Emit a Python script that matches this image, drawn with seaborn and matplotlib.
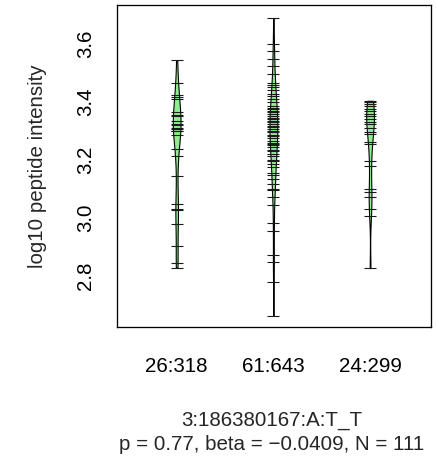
import pandas as pd
import matplotlib.pyplot as plt
import seaborn as sns

# groups (genotype counts)
groups = ["26:318", "61:643", "24:299"]

g1 = [3.544, 3.464, 3.424, 3.418, 3.410, 3.364, 3.356, 3.350, 3.336, 3.324,
      3.320, 3.311, 3.305, 3.300, 3.299, 3.287, 3.238, 3.215, 3.143, 3.047,
      3.032, 3.027, 2.980, 2.903, 2.843, 2.829]

g2 = [3.689, 3.601, 3.574, 3.547, 3.524, 3.496, 3.464, 3.458, 3.450, 3.441,
      3.427, 3.420, 3.410, 3.400, 3.387, 3.379, 3.375, 3.370, 3.365, 3.359,
      3.350, 3.345, 3.340, 3.336, 3.330, 3.324, 3.318, 3.313, 3.305, 3.301,
      3.295, 3.287, 3.281, 3.275, 3.267, 3.260, 3.256, 3.250, 3.244, 3.235,
      3.230, 3.220, 3.215, 3.201, 3.195, 3.187, 3.175, 3.155, 3.147, 3.135,
      3.118, 3.101, 3.098, 3.072, 3.044, 2.981, 2.955, 2.872, 2.849, 2.780,
      2.663]

g3 = [3.404, 3.400, 3.393, 3.385, 3.376, 3.368, 3.359, 3.350, 3.341, 3.330,
      3.324, 3.310, 3.295, 3.290, 3.261, 3.256, 3.195, 3.178, 3.101, 3.089,
      3.072, 3.032, 3.006, 2.827]

snp_label = "3:186380167:A:T_T"
stats_label = "p = 0.77, beta = \u22120.0409, N = 111"

df = pd.DataFrame({
    "group": [groups[0]] * len(g1) + [groups[1]] * len(g2) + [groups[2]] * len(g3),
    "value": g1 + g2 + g3,
})

sns.set_style("white")
plt.rcParams["font.family"] = ["Liberation Sans", "DejaVu Sans"]

fs = 20.5

fig = plt.figure(figsize=(436 / 72, 460 / 72), dpi=72)
ax = fig.add_axes([117 / 436, 1 - 327 / 460, (431 - 117) / 436, (327 - 4.5) / 460])

# bean shapes
sns.violinplot(data=df, x="group", y="value", order=groups, ax=ax,
               cut=0, inner=None, width=0.08, density_norm="width",
               bw_adjust=0.6, color="#90EE90", saturation=1,
               linecolor="black", linewidth=1.1)

# bean lines (one per observation)
sns.stripplot(data=df, x="group", y="value", order=groups, ax=ax,
              jitter=False, marker="_", size=12.5, color="#1a1a1a",
              linewidth=1.1)

ax.set_xlim(-0.617, 2.63)
ax.set_ylim(2.624, 3.736)
ax.set_yticks([2.8, 3.0, 3.2, 3.4, 3.6])
ax.set_yticklabels(["2.8", "3.0", "3.2", "3.4", "3.6"], rotation=90, va="center")

for s in ax.spines.values():
    s.set_visible(True)
    s.set_color("black")
    s.set_linewidth(1.3)

ax.tick_params(axis="both", which="both", direction="out", length=13, width=1.3,
               color="black", labelsize=fs, labelcolor="black")
ax.tick_params(axis="y", pad=9)
ax.tick_params(axis="x", pad=17)

ax.set_xlabel("")
ax.set_ylabel("log10 peptide intensity", fontsize=fs)
ax.yaxis.set_label_coords(-(117 - 38) / 314, 0.5)
ax.yaxis.label.set_va("center")

fig.text(272 / 436, 1 - 426 / 460, snp_label, ha="center", va="baseline", fontsize=fs)
fig.text(272 / 436, 1 - 450 / 460, stats_label, ha="center", va="baseline", fontsize=fs)

fig.savefig("out.png", dpi=72)
